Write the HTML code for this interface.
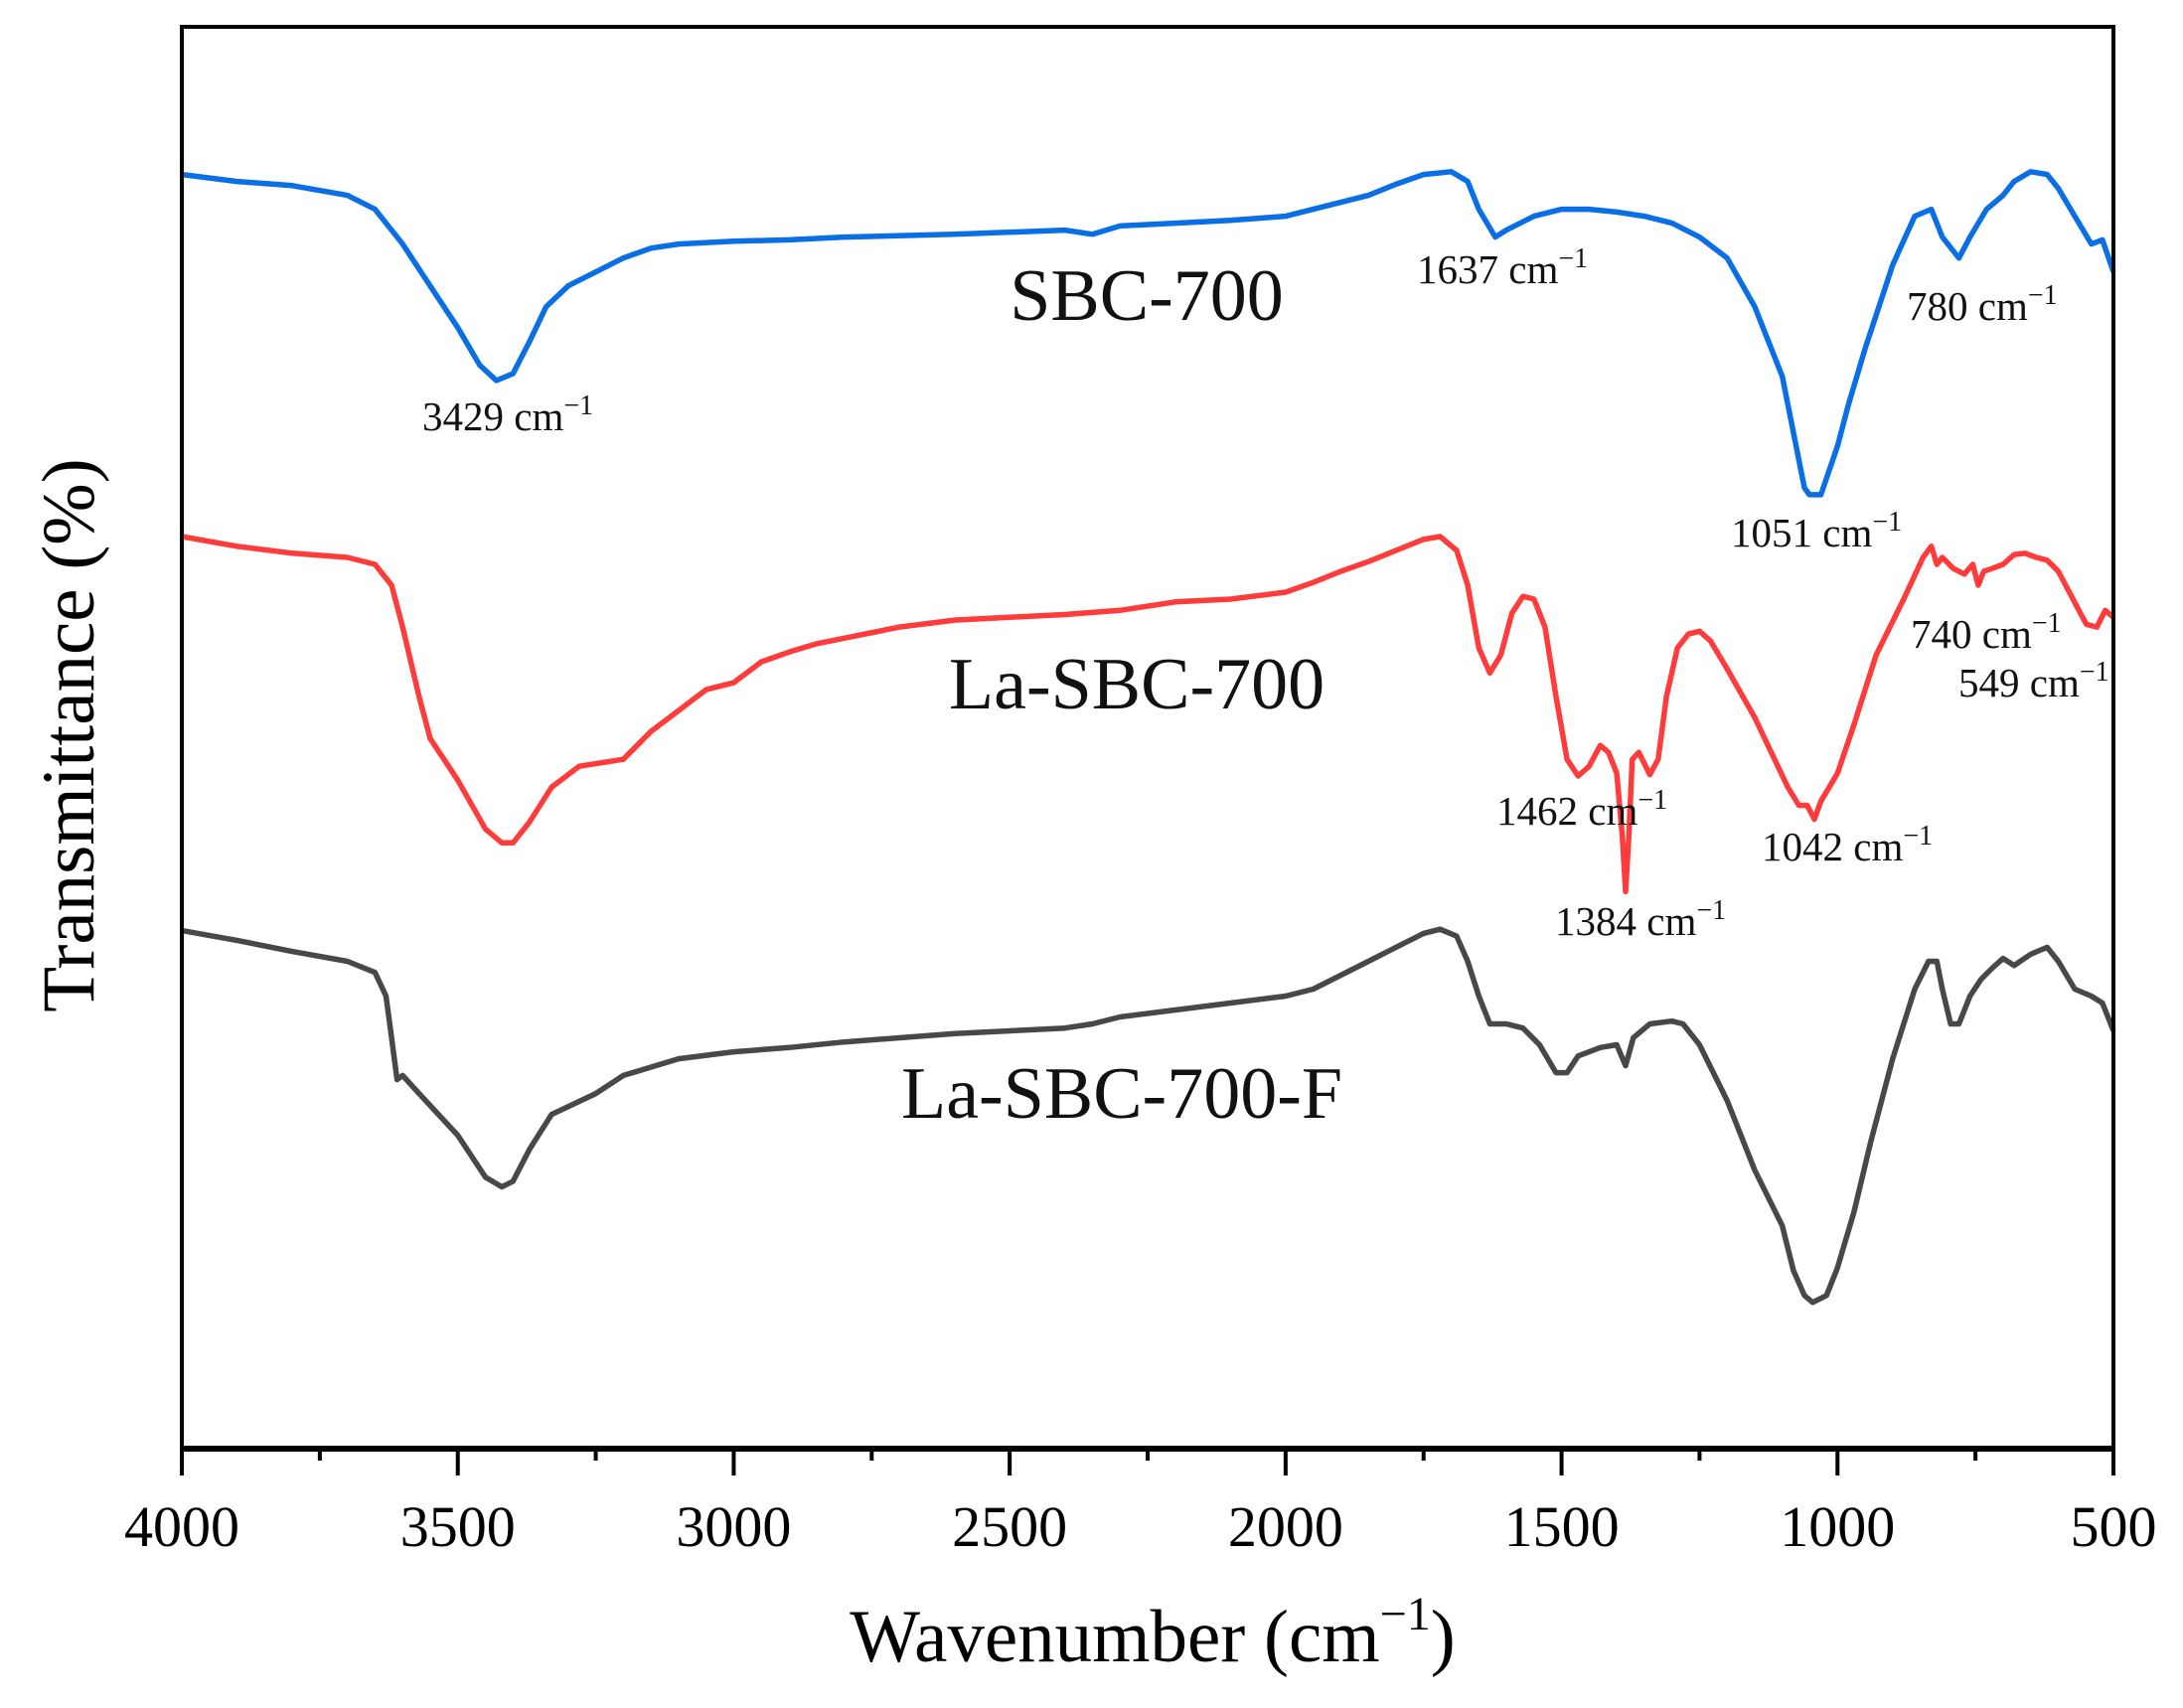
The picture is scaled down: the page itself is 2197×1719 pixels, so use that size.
<!DOCTYPE html>
<html><head><meta charset="utf-8"><style>
html,body{margin:0;padding:0;background:#fff;}
svg{display:block;font-family:"Liberation Serif",serif;}
</style></head><body>
<svg id="chart" width="2197" height="1719" viewBox="0 0 2197 1719">
<g id="series"></g>
<g id="frame">
<rect x="183" y="27" width="1944" height="1432" fill="none" stroke="#000" stroke-width="4"/>
<line x1="181" y1="1458" x2="2129" y2="1458" stroke="#000" stroke-width="6"/>
</g>
<g id="ticks"></g>
<g id="labels" font-size="41" fill="#111">
<text x="1154" y="322" font-size="74" text-anchor="middle">SBC-700</text>
<text x="1144" y="713" font-size="74" text-anchor="middle">La-SBC-700</text>
<text x="1129" y="1125" font-size="74" text-anchor="middle">La-SBC-700-F</text>
<text x="425" y="433">3429 cm<tspan dy="-16" font-size="28">−1</tspan></text>
<text x="1426" y="285">1637 cm<tspan dy="-16" font-size="28">−1</tspan></text>
<text x="1919" y="322">780 cm<tspan dy="-16" font-size="28">−1</tspan></text>
<text x="1742" y="550">1051 cm<tspan dy="-16" font-size="28">−1</tspan></text>
<text x="1506" y="830">1462 cm<tspan dy="-16" font-size="28">−1</tspan></text>
<text x="1565" y="941">1384 cm<tspan dy="-16" font-size="28">−1</tspan></text>
<text x="1773" y="866">1042 cm<tspan dy="-16" font-size="28">−1</tspan></text>
<text x="1923" y="652">740 cm<tspan dy="-16" font-size="28">−1</tspan></text>
<text x="1971" y="701">549 cm<tspan dy="-16" font-size="28">−1</tspan></text>
</g>
<text x="1160" y="1672" font-size="75" text-anchor="middle" fill="#000">Wavenumber (cm<tspan dy="-32" font-size="48">−1</tspan><tspan dy="32">)</tspan></text>
<text transform="translate(94,740) rotate(-90)" font-size="75" text-anchor="middle" fill="#000">Transmittance (%)</text>
</svg>
<script>
// Values: offset transmittance plotted in display units (larger = lower on plot)
const xTicks = [4000,3500,3000,2500,2000,1500,1000,500];
const xMinorTicks = [3750,3250,2750,2250,1750,1250,750];
const sbcWn = [4000,3900,3800,3700,3650,3600,3550,3500,3460,3430,3400,3370,3340,3300,3250,3200,3150,3100,3000,2900,2800,2600,2400,2350,2300,2200,2100,2000,1950,1900,1850,1800,1750,1700,1670,1650,1620,1600,1550,1500,1450,1400,1350,1300,1250,1200,1150,1100,1075,1060,1051,1030,1000,980,950,900,860,830,810,790,780,760,730,700,680,650,620,600,570,540,520,500];
const sbcT = [125,130,133,140,150,175,205,235,262,273,268,245,220,205,195,185,178,175,173,172,170,168,165,168,162,160,158,155,150,145,140,132,125,123,130,150,170,165,155,150,150,152,155,160,170,185,220,270,320,350,355,355,320,290,250,190,155,150,170,180,185,170,150,140,130,123,125,135,155,175,172,195];
const laWn = [4000,3900,3800,3700,3650,3620,3600,3570,3550,3500,3450,3420,3400,3370,3330,3280,3200,3150,3100,3050,3000,2950,2900,2850,2800,2700,2600,2500,2400,2300,2200,2100,2000,1950,1900,1850,1800,1750,1720,1690,1670,1650,1630,1610,1590,1570,1550,1530,1510,1490,1470,1450,1430,1415,1400,1390,1384,1378,1372,1360,1340,1325,1310,1290,1270,1250,1230,1200,1150,1120,1090,1070,1055,1042,1030,1000,970,930,880,845,830,820,810,790,770,755,745,735,720,700,680,660,640,620,600,580,560,549,530,515,500];
const laT = [385,392,397,400,405,420,450,500,530,560,595,605,605,590,565,550,545,525,510,495,490,475,468,462,458,450,445,443,441,438,432,430,425,418,410,403,395,387,385,395,420,465,483,470,440,428,430,450,500,545,557,550,535,540,555,600,640,600,545,540,556,545,500,465,455,453,460,480,515,540,565,578,578,588,575,555,520,470,430,400,392,405,400,408,412,405,420,410,408,405,398,397,400,402,410,425,440,448,450,438,443];
const lafWn = [4000,3900,3800,3700,3650,3630,3620,3610,3600,3570,3500,3450,3420,3400,3370,3330,3250,3200,3100,3000,2900,2800,2600,2400,2350,2300,2200,2100,2000,1950,1900,1850,1800,1750,1720,1690,1670,1650,1630,1600,1570,1540,1510,1490,1470,1430,1400,1384,1370,1340,1300,1280,1250,1200,1150,1100,1080,1060,1045,1020,1000,970,940,900,860,835,820,810,795,780,760,740,720,700,680,650,620,600,570,540,520,500];
const lafT = [668,675,683,690,698,715,745,775,772,785,815,845,852,848,825,800,785,772,760,755,752,748,742,738,735,730,725,720,715,710,700,690,680,670,667,672,690,715,735,735,738,750,770,770,758,752,750,765,745,735,733,735,750,790,840,880,912,930,935,930,910,870,820,760,710,690,690,710,735,735,715,703,695,688,693,685,680,690,710,715,720,740];

const X0=183, X1=2127, Y0=27, Y1=1458;
function xScale(w){return X0+(4000-w)/(4000-500)*(X1-X0);}
function yScale(v){return Y0+(v-19)/(1040-19)*(Y1-Y0);}
const NS="http://www.w3.org/2000/svg";
const series=document.getElementById('series');
function draw(wn,t,color,name){
  const p=document.createElementNS(NS,'path');
  let d='';
  for(let i=0;i<wn.length;i++){d+=(i?'L':'M')+xScale(wn[i]).toFixed(1)+','+yScale(t[i]).toFixed(1);}
  p.setAttribute('d',d);
  p.setAttribute('fill','none');
  p.setAttribute('stroke',color);
  p.setAttribute('stroke-width','5.5');
  p.setAttribute('stroke-linejoin','round');
  
  
  series.appendChild(p);
}
draw(sbcWn,sbcT,'#0a6fe4','line-sbc-700');
draw(laWn,laT,'#ff3c3c','line-la-sbc-700');
draw(lafWn,lafT,'#484848','line-la-sbc-700-f');

const ticks=document.getElementById('ticks');
xTicks.forEach(w=>{
  const l=document.createElementNS(NS,'line');
  const x=xScale(w);
  l.setAttribute('x1',x);l.setAttribute('x2',x);l.setAttribute('y1',1458);l.setAttribute('y2',1485);
  l.setAttribute('stroke','#000');l.setAttribute('stroke-width','4');
  
  
  ticks.appendChild(l);
  const t=document.createElementNS(NS,'text');
  t.setAttribute('x',x);t.setAttribute('y',1556);t.setAttribute('text-anchor','middle');t.setAttribute('font-size','58');
  t.textContent=w;
  
  
  ticks.appendChild(t);
});
xMinorTicks.forEach(w=>{
  const l=document.createElementNS(NS,'line');
  const x=xScale(w);
  l.setAttribute('x1',x);l.setAttribute('x2',x);l.setAttribute('y1',1458);l.setAttribute('y2',1470);
  l.setAttribute('stroke','#000');l.setAttribute('stroke-width','4');
  
  
  ticks.appendChild(l);
});
</script>
</body></html>
